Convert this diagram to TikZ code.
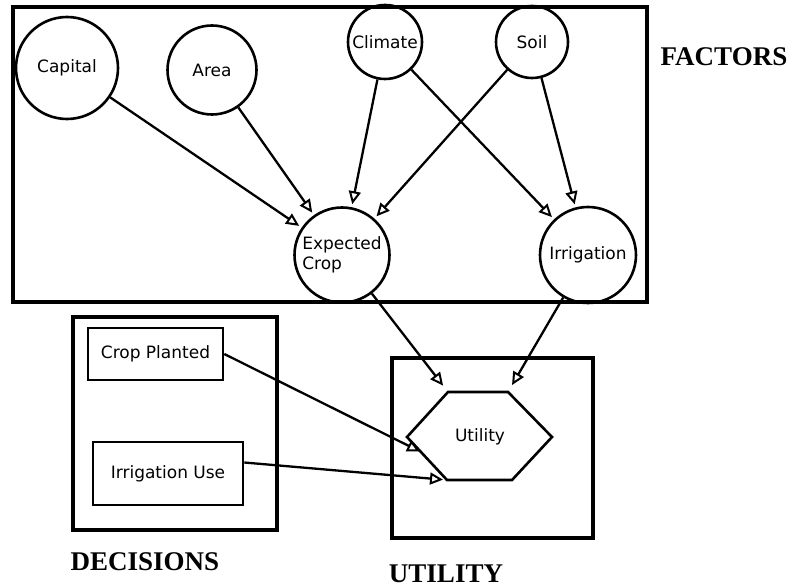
\documentclass[tikz,border=0pt]{standalone}
\usepackage{fontspec}
\setmainfont{Liberation Serif}
\newfontfamily\nodefont{DejaVu Sans}
\usetikzlibrary{arrows.meta}
\tikzset{
  nfont/.style={font=\nodefont\fontsize{17}{20}\selectfont},
  frame/.style={line width=3.8pt},
  circ/.style={circle, draw, line width=2.6pt, inner sep=0pt, nfont},
  dbox/.style={rectangle, draw, line width=2.6pt, inner sep=0pt, nfont},
  conn/.style={line width=2.3pt, -{Triangle[open, length=13pt, width=12pt, line width=2pt]}, shorten >=3pt},
  title/.style={font=\bfseries\fontsize{27}{30}\selectfont}
}
\begin{document}
\begin{tikzpicture}[x=1pt,y=-1pt]
\useasboundingbox (0,0) rectangle (794,588);
% group frames
\draw[frame] (13,7) rectangle (647,302);
\draw[frame] (73,317) rectangle (277,530);
\draw[frame] (392,358) rectangle (593,538);
% factor nodes
\node[circ, minimum size=102pt] (cap) at (67,68) {Capital};
\node[circ, minimum size=89pt] (area) at (212,70) {Area};
\node[circ, minimum size=74pt] (clim) at (385,42) {Climate};
\node[circ, minimum size=72pt] (soil) at (532,42) {Soil};
\node[circ, minimum size=95pt, align=left] (ec) at (342,255) {Expected\\Crop};
\node[circ, minimum size=96pt] (irr) at (588,255) {Irrigation};
% decision nodes
\node[dbox, minimum width=135pt, minimum height=52pt] (cp) at (155.5,354) {Crop Planted};
\node[dbox, minimum width=150pt, minimum height=63pt] (iu) at (168,473.5) {Irrigation Use};
% utility hexagon
\coordinate (h1) at (448,392);
\coordinate (h2) at (508,392);
\coordinate (h3) at (552,437);
\coordinate (h4) at (512,480);
\coordinate (h5) at (447,480);
\coordinate (h6) at (407,437);
\coordinate (hl) at (421,452);
\draw[line width=2.6pt, line join=miter] (h1) -- (h2) -- (h3) -- (h4) -- (h5) -- (h6) -- cycle;
\node[nfont] (util) at (480,437) {Utility};
% connectors
\draw[conn] (cap) -- (ec);
\draw[conn] (area) -- (ec);
\draw[conn] (clim) -- (ec);
\draw[conn] (soil) -- (ec);
\draw[conn] (clim) -- (irr);
\draw[conn] (soil) -- (irr);
\draw[conn, shorten >=8pt] (ec) -- (h1);
\draw[conn, shorten >=8pt] (irr) -- (h2);
\draw[conn, shorten >=1pt] (cp.east) -- (hl);
\draw[conn, shorten >=4pt] ([yshift=11pt]iu.east) -- (h5);
% titles
\node[title] (tf) at (724,57) {FACTORS};
\node[title] (td) at (145,562) {DECISIONS};
\node[title] (tu) at (446,574) {UTILITY};
\end{tikzpicture}
\end{document}
